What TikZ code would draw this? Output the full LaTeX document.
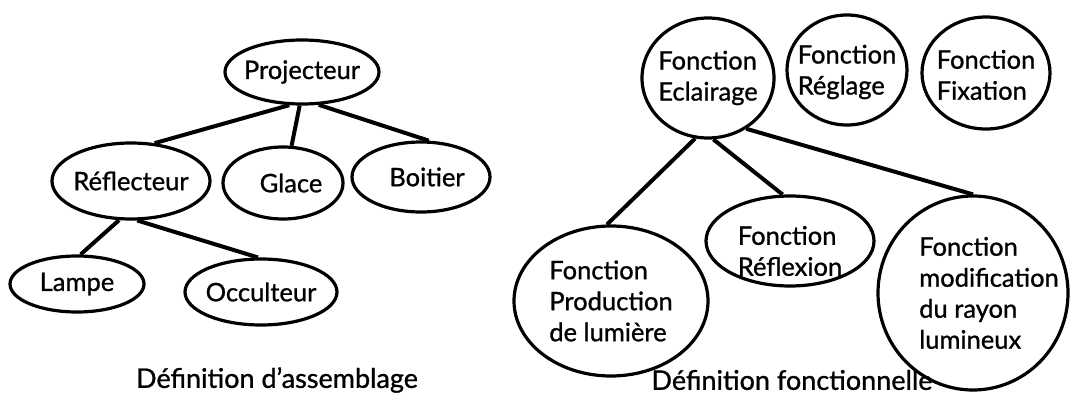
\documentclass[tikz,border=0pt]{standalone}
\usepackage{fontspec}
\setmainfont{Lato}[FakeBold=1]
\usetikzlibrary{shapes.geometric}

\begin{document}
\begin{tikzpicture}[x=1pt,y=-1pt,
    part/.style 2 args={draw,ellipse,line width=3.2pt,inner sep=0pt,
      minimum width=#1,minimum height=#2},
    every label/.style={font=\fontsize{25.5}{31}\selectfont,align=left},
    caption/.style={font=\fontsize{27}{32}\selectfont,inner sep=1pt},
    link/.style={line width=4pt}]
  \useasboundingbox (0,0) rectangle (1071,396);
  % assemblage
  \draw
    (302,72) node[part={154pt}{64pt},label={center:Projecteur}] (projecteur){}
    (131,181) node[part={158pt}{76pt},label={center:Réflecteur}] (reflecteur){}
    (283,183) node[part={120pt}{72pt},label={[xshift=8pt]center:Glace}] (glace){}
    (421,177) node[part={138pt}{70pt},label={[xshift=6pt]center:Boitier}] (boitier){}
    (77,284) node[part={134pt}{56pt},label={center:Lampe}] (lampe){}
    (261,292) node[part={152pt}{66pt},label={center:Occulteur}] (occulteur){}
    (277,380) node[caption] (assemblage){Définition d'assemblage};
  % fonctions
  \draw
    (708,78) node[part={132pt}{120pt},label={center:Fonction\\Eclairage}] (eclairage){}
    (847,70) node[part={120pt}{110pt},label={[yshift=-2pt]center:Fonction\\Réglage}] (reglage){}
    (986,73) node[part={128pt}{112pt},label={[yshift=-2pt]center:Fonction\\Fixation}] (fixation){}
    (611,301) node[part={194pt}{150pt},label={center:Fonction\\Production\\de lumière}] (production){}
    (790,241) node[part={168pt}{90pt},label={[yshift=-10pt]center:Fonction\\Réflexion}] (reflexion){}
    (973,293) node[part={190pt}{194pt},label={[xshift=16pt]center:Fonction\\modification\\du rayon\\lumineux}] (modification){}
    (792,380) node[caption] (fonctionnelle){Définition fonctionnelle};
  \begin{scope}[link]
    \draw (projecteur.-111) to (reflecteur.58);
    \draw (projecteur.-94) to (glace.77);
    \draw (projecteur.-63) to (boitier.78);
    \draw (reflecteur.-107) to (lampe.83);
    \draw (reflecteur.-81) to (occulteur.95);
    \draw (eclairage.-102) to (production.93);
    \draw (eclairage.-85) to (reflexion.99);
    \draw (eclairage.-53) to (modification.90);
  \end{scope}
\end{tikzpicture}
\end{document}
